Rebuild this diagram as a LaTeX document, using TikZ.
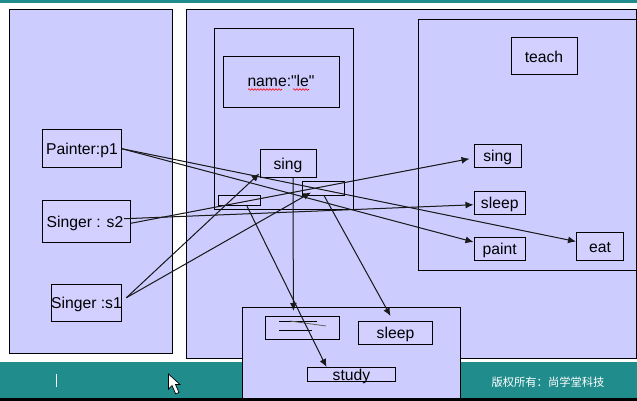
\documentclass[tikz,border=0pt]{standalone}
\usepackage{fontspec}
\setmainfont{Liberation Sans}
\newfontfamily\cjkfont{Noto Sans CJK SC}
\usetikzlibrary{arrows.meta,decorations.pathmorphing}
\definecolor{panelblue}{HTML}{CCCCFF}
\definecolor{boxblue}{HTML}{D3CFFF}
\definecolor{bandteal}{HTML}{218C8C}
\definecolor{arrowgrey}{HTML}{1A1A1A}
\tikzset{
    panel/.style={draw,line width=1pt,fill=panelblue,inner sep=0pt},
    slot/.style={draw,line width=1pt,fill=boxblue,inner sep=0pt},
    membox/.style={slot,font=\fontsize{15.7}{18}\selectfont,
        text height=11.6pt,text depth=0pt},
    link/.style={-{Latex[length=8pt,width=7pt]},line width=1pt,draw=arrowgrey,
        fill=arrowgrey},
    squiggle/.style={red,line width=.6pt,decorate,
        decoration={snake,amplitude=.8pt,segment length=3pt}}
}
\begin{document}
\begin{tikzpicture}[x=1pt,y=-1pt]
    \useasboundingbox (0,0) rectangle (637,401);
    \fill[white] (0,0) rectangle (637,401);
    \fill[bandteal] (0,0) rectangle (637,3.5);
    \fill[bandteal] (0,362) rectangle (637,398);
    \fill[black] (0,398) rectangle (637,401);

    \node[panel,minimum width=163pt,minimum height=344pt] (stack) at (91,181.5) {};
    \node[panel,minimum width=450pt,minimum height=349pt] (heap) at (411.5,184) {};
    \node[panel,minimum width=139pt,minimum height=180.5pt] (obj) at (284,118.75) {};
    \node[panel,minimum width=116pt,minimum height=51pt] (namebox) at (281.5,82) {};
    \node[panel,minimum width=217.5pt,minimum height=250.5pt] (code) at (527.25,144.75) {};
    \node[panel,minimum width=218pt,minimum height=91pt] (data) at (351.4,352.8) {};

    \node[font=\fontsize{15.7}{18}\selectfont,text height=11.6pt,text depth=0pt]
        (nametext) at (281,81) {name:\textquotedbl le\textquotedbl};
    \draw[squiggle] (248,89.5) -- (282,89.5);
    \draw[squiggle] (293,89.5) -- (309,89.5);

    % stack side
    \node[membox,minimum width=79pt,minimum height=37.5pt] (p1) at (82,148.75) {Painter:p1};
    \node[membox,minimum width=88pt,minimum height=42.5pt] (s2) at (86.5,221.25) {\hspace{-3pt}Singer : s2};
    \node[membox,minimum width=70pt,minimum height=37.5pt] (s1) at (86.5,302.75) {Singer :s1};

    % object
    \node[membox,minimum width=56pt,minimum height=27.5pt] (objsing) at (288,163.25) {sing};
    \node[slot,minimum width=42pt,minimum height=10.5pt] (lbox) at (239,200.5) {};
    \node[slot,minimum width=42pt,minimum height=13.5pt] (rbox) at (323,188.25) {};

    % code side
    \node[membox,minimum width=66pt,minimum height=37pt] (teach) at (544,56.5) {teach};
    \node[membox,minimum width=47.5pt,minimum height=23pt] (sing) at (497.75,155.75) {sing};
    \node[membox,minimum width=51.5pt,minimum height=23pt] (sleep) at (499.75,202.75) {sleep};
    \node[membox,minimum width=51.5pt,minimum height=23pt] (paint) at (499.75,249) {paint};
    \node[membox,minimum width=47pt,minimum height=28pt] (eat) at (600,246.5) {eat};

    % data side
    \node[slot,minimum width=74pt,minimum height=23pt] (slash) at (302.4,328) {};
    \node[membox,minimum width=74pt,minimum height=23pt] (dsleep) at (395.5,333) {sleep};
    \node[membox,minimum width=88pt,minimum height=14pt] (study) at (351.5,374.5) {study};
    \draw[line width=.8pt] (279,321.5) -- (316.5,321.5);
    \draw[line width=.8pt] (279,330) -- (312,330);
    \draw[line width=.8pt,draw=arrowgrey!70] (290,321) -- (326,326);

    \draw[link] (p1.east) -- ([yshift=7pt]paint.west);
    \draw[link] (p1.east) -- ([yshift=5pt]eat.west);
    \draw[link] ([xshift=-7pt,yshift=2.5pt]s2.east) -- ([yshift=-2pt]sleep.west);
    \draw[link] ([yshift=-2pt]s2.east) -- ([xshift=-4pt,yshift=-3pt]sing.west);
    \draw[link] ([xshift=4pt,yshift=5pt]s1.east) -- ([yshift=4pt]objsing.south west);
    \draw[link] ([xshift=4pt,yshift=5pt]s1.east) -- ([xshift=-12pt,yshift=3pt]rbox.south);
    \draw[link] ([xshift=8pt]lbox.south) -- ([xshift=-25pt]study.north);
    \draw[link] ([xshift=1pt]rbox.south) -- ([xshift=-5pt,yshift=5pt]dsleep.north);
    \draw[link] ([xshift=5pt]objsing.south) -- ([xshift=-9pt,yshift=5pt]slash.north);

    % band
    \draw[white,line width=.8pt] (56.5,374) -- (56.5,387);
    \fill[white,draw=black,line width=.7pt] (168.5,374) -- (168.5,389) -- (172,385.5)
        -- (175.7,394) -- (179,392.5) -- (175.5,384.5) -- (180,384.5) -- cycle;
    \node[white,font=\fontsize{11.3}{12}\cjkfont] (copyright) at (548,382) {版权所有：尚学堂科技};
\end{tikzpicture}
\end{document}
